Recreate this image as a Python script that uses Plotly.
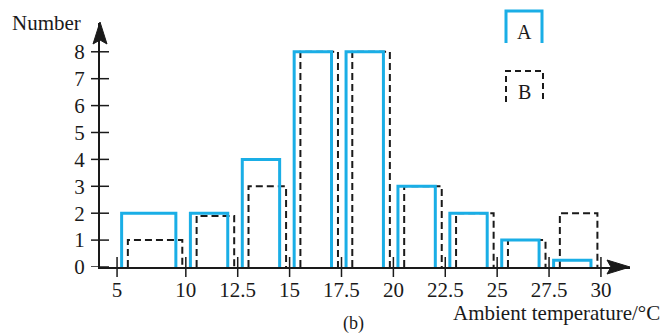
import plotly.graph_objects as go

# ---------------- data ----------------
bin_edges = [5, 10, 12.5, 15, 17.5, 20, 22.5, 25, 27.5, 30]
tick_labels = ["5", "10", "12.5", "15", "17.5", "20", "22.5", "25", "27.5", "30"]
count_A = [2, 2, 4, 8, 8, 3, 2, 1, 0.25]
count_B = [1, 1.9, 3, 8, 8, 3, 2, 1, 2]
y_ticks = [0, 1, 2, 3, 4, 5, 6, 7, 8]

# ---------------- style / layout constants ----------------
W, H = 663, 336
ML, MR, MT, MB = 100, 33, 23, 69
BREAK_SCALE = 0.6626          # first bin (5-10) drawn compressed (axis break)
X_RANGE = [5.865, 31.4]
Y_RANGE = [0, 9.07]
BLUE = "#1aaee6"
INK = "#1a1a1a"
FONT = "Liberation Serif"

def disp(t):
    return t if t >= 10 else 10 - (10 - t) * BREAK_SCALE

# insets of the outlines within each bin, in axis units
A_IN = (0.22, 0.48)
B_IN = (0.52, 0.17)

def outline(counts, inset):
    xs, ys = [], []
    for lo, hi, c in zip(bin_edges[:-1], bin_edges[1:], counts):
        l = disp(lo) + inset[0]
        r = disp(hi) - inset[1]
        xs += [l, l, r, r, None]
        ys += [0, c, c, 0, None]
    return xs, ys

fig = go.Figure()
xa, ya = outline(count_A, A_IN)
xb, yb = outline(count_B, B_IN)
fig.add_trace(go.Scatter(x=xb, y=yb, mode="lines",
                         line=dict(color=INK, width=2, dash="7px,4px"),
                         hoverinfo="skip", showlegend=False))
fig.add_trace(go.Scatter(x=xa, y=ya, mode="lines",
                         line=dict(color=BLUE, width=3),
                         hoverinfo="skip", showlegend=False))

PW = W - ML - MR
PH = H - MT - MB

def px(xp):  # pixel -> paper x
    return (xp - ML) / PW

def py(yp):  # pixel -> paper y
    return (H - MB - yp) / PH

shapes = []
# crossing tick marks
for v in y_ticks:
    shapes.append(dict(type="line", xref="paper", yref="y",
                       x0=px(91), x1=px(109), y0=v, y1=v,
                       line=dict(color=INK, width=1.5)))
for e in bin_edges:
    shapes.append(dict(type="line", xref="x", yref="paper",
                       x0=disp(e), x1=disp(e), y0=py(277), y1=py(257),
                       line=dict(color=INK, width=1.5)))
# arrow heads
shapes.append(dict(type="path", xref="paper", yref="paper",
                   path=f"M {px(100)} {py(22)} L {px(93)} {py(44)} L {px(100)} {py(40)} L {px(107)} {py(44)} Z",
                   fillcolor=INK, line=dict(color=INK, width=1)))
shapes.append(dict(type="path", xref="paper", yref="paper",
                   path=f"M {px(630)} {py(267)} L {px(607)} {py(260)} L {px(611)} {py(267)} L {px(607)} {py(274)} Z",
                   fillcolor=INK, line=dict(color=INK, width=1)))
# legend keys (open at the bottom)
shapes.append(dict(type="path", xref="paper", yref="paper",
                   path=f"M {px(506)} {py(43)} L {px(506)} {py(11)} L {px(542)} {py(11)} L {px(542)} {py(43)}",
                   line=dict(color=BLUE, width=3)))
shapes.append(dict(type="path", xref="paper", yref="paper",
                   path=f"M {px(506)} {py(102)} L {px(506)} {py(71)} L {px(543)} {py(71)} L {px(543)} {py(102)}",
                   line=dict(color=INK, width=2, dash="6px,4px")))

annotations = [
    dict(text="Number", xref="paper", yref="paper", x=px(10), y=py(23),
         xanchor="left", yanchor="middle", showarrow=False,
         font=dict(family=FONT, size=21, color=INK)),
    dict(text="Ambient temperature/°C", xref="paper", yref="paper",
         x=px(662), y=py(313), xanchor="right", yanchor="middle", showarrow=False,
         font=dict(family=FONT, size=21, color=INK)),
    dict(text="(b)", xref="paper", yref="paper", x=px(353), y=py(323),
         xanchor="center", yanchor="middle", showarrow=False,
         font=dict(family=FONT, size=18, color=INK)),
    dict(text="A", xref="paper", yref="paper", x=px(524), y=py(32),
         xanchor="center", yanchor="middle", showarrow=False,
         font=dict(family=FONT, size=20, color=INK)),
    dict(text="B", xref="paper", yref="paper", x=px(524), y=py(92),
         xanchor="center", yanchor="middle", showarrow=False,
         font=dict(family=FONT, size=20, color=INK)),
]

fig.update_layout(
    width=W, height=H,
    margin=dict(l=ML, r=MR, t=MT, b=MB),
    paper_bgcolor="white", plot_bgcolor="white",
    shapes=shapes, annotations=annotations,
    xaxis=dict(range=X_RANGE, showgrid=False, zeroline=False,
               showline=True, linecolor=INK, linewidth=2,
               tickmode="array", tickvals=[disp(e) for e in bin_edges],
               ticktext=tick_labels, ticks="outside", ticklen=3,
               tickwidth=1, tickcolor="rgba(0,0,0,0)",
               tickfont=dict(family=FONT, size=21, color=INK)),
    yaxis=dict(range=Y_RANGE, showgrid=False, zeroline=False,
               showline=True, linecolor=INK, linewidth=2,
               tickmode="array", tickvals=y_ticks,
               ticks="outside", ticklen=9, tickwidth=1, tickcolor="rgba(0,0,0,0)",
               tickfont=dict(family=FONT, size=21, color=INK)),
)

fig.write_html("out.html", config={"displayModeBar": False},
               post_script="document.body.style.margin='0';document.body.style.overflow='hidden';")
